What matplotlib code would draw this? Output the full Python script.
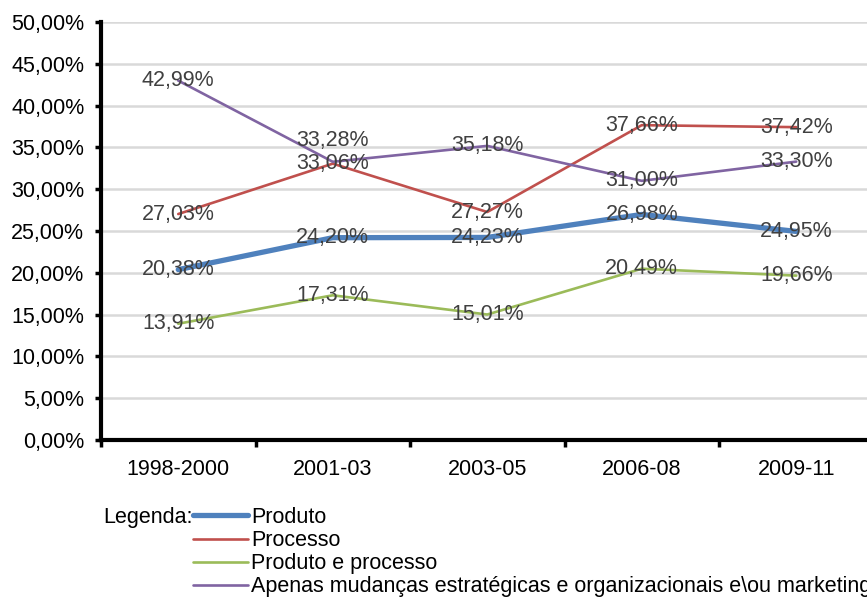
import matplotlib.pyplot as plt
import numpy as np

plt.rcParams['font.family'] = ['Liberation Sans', 'DejaVu Sans']

# Data
periodos = ['1998-2000', '2001-03', '2003-05', '2006-08', '2009-11']
produto = [20.38, 24.20, 24.23, 26.98, 24.95]
processo = [27.03, 33.06, 27.27, 37.66, 37.42]
produto_processo = [13.91, 17.31, 15.01, 20.49, 19.66]
apenas_mudancas = [42.99, 33.28, 35.18, 31.00, 33.30]

series = [
    ('Produto', produto, '#4F81BD', 3.8),
    ('Processo', processo, '#C0504D', 1.9),
    ('Produto e processo', produto_processo, '#9BBB59', 1.9),
    ('Apenas mudanças estratégicas e organizacionais e\\ou marketing', apenas_mudancas, '#8064A2', 1.9),
]

FS = 15.5

fig = plt.figure(figsize=(8.67, 5.99), dpi=100)
ax = fig.add_axes([101 / 867, 1 - 440 / 599, 772.5 / 867, 418 / 599])

x = np.arange(len(periodos))
handles = []
for nome, vals, cor, lw in series:
    h, = ax.plot(x, vals, color=cor, lw=lw, solid_capstyle='round', zorder=3, label=nome)
    handles.append(h)
    for i, v in enumerate(vals):
        dy = 0
        if nome.startswith('Apenas') and i == 1:
            dy = 2.5  # label pushed up to avoid overlap
        ax.text(i, v + dy, f'{v:.2f}%'.replace('.', ','), ha='center', va='center',
                fontsize=FS, color='#404040', zorder=4)

ax.set_xlim(-0.5, len(periodos) - 0.5)
ax.set_ylim(0, 50)
ax.set_yticks(np.arange(0, 50.1, 5))
ax.set_yticklabels([f'{t:.2f}%'.replace('.', ',') for t in np.arange(0, 50.1, 5)])
ax.set_xticks(x)
ax.set_xticklabels(periodos)
ax.set_xticks(np.arange(-0.5, len(periodos), 1), minor=True)
ax.tick_params(axis='x', which='major', length=0, pad=14, labelsize=FS, colors='black')
ax.tick_params(axis='x', which='minor', length=5, width=2.5, direction='out')
ax.tick_params(axis='y', length=4, width=2.5, direction='out', labelsize=FS, pad=8)

ax.yaxis.grid(True, color='#D9D9D9', lw=1.8)
ax.set_axisbelow(True)
for s in ['top', 'right']:
    ax.spines[s].set_visible(False)
for s in ['left', 'bottom']:
    ax.spines[s].set_linewidth(3)
ax.spines['bottom'].set_zorder(5)

# Legend
fig.text(103 / 867, 1 - 518 / 599, 'Legenda:', fontsize=FS, va='center', ha='left')
fig.legend(handles=handles, loc='upper left', bbox_to_anchor=(193 / 867, 1 - 507 / 599),
           frameon=False, fontsize=FS, handlelength=2.55, handletextpad=0.15,
           labelspacing=0.1, borderpad=0, borderaxespad=0)

plt.savefig('out.png', dpi=100)
